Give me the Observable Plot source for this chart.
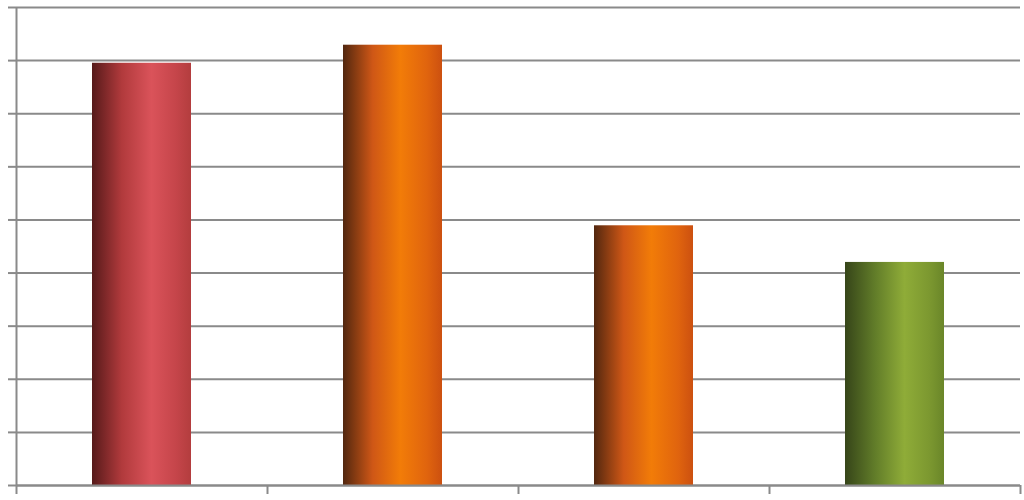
<!DOCTYPE html>
<html>
<head>
<meta charset="utf-8">
<script src="https://cdn.jsdelivr.net/npm/d3@7"></script>
<script src="https://cdn.jsdelivr.net/npm/@observablehq/plot@0.6"></script>
<style>
  html, body { margin: 0; padding: 0; background: #fff; }
  #chart svg { display: block; }
</style>
</head>
<body>
<div id="chart"></div>
<script>
// Data
const categories = ["1", "2", "3", "4"];
const values = [7.95, 8.29, 4.89, 4.20];
const gradientIds = ["gRed", "gOrange", "gOrange", "gGreen"];
const yTicks = [0, 1, 2, 3, 4, 5, 6, 7, 8, 9];
const xBoundaries = [0, 1, 2, 3, 4];

// Gradient stops: [offset, color]
const gradients = {
  gRed:    [[0, "#561a1a"], [0.3, "#b13a3c"], [0.6, "#da535a"], [0.85, "#c5454a"], [1, "#b33d3e"]],
  gOrange: [[0, "#52270f"], [0.3, "#cf5716"], [0.58, "#f27c08"], [0.85, "#e0640e"], [1, "#cc5010"]],
  gGreen:  [[0, "#364519"], [0.3, "#617c29"], [0.6, "#8fac38"], [0.85, "#7c9830"], [1, "#6a8629"]]
};

const data = categories.map((c, i) => ({ category: c, index: i, value: values[i], grad: gradientIds[i] }));

const grey = "#8a8a8a";

const chart = Plot.plot({
  width: 1024,
  height: 500,
  marginLeft: 16,
  marginRight: 4,
  marginTop: 7,
  marginBottom: 15,
  x: { domain: [0, 4], axis: null, label: null },
  y: { domain: [0, 9], axis: null, label: null },
  color: { type: "identity" },
  marks: [
    Plot.gridY(yTicks, { stroke: grey, strokeOpacity: 1, strokeWidth: 2 }),
    Plot.axisY(yTicks, { tickSize: 8, tickFormat: () => "", label: null, stroke: grey, strokeWidth: 2 }),
    Plot.axisX(xBoundaries, { tickSize: 9, tickFormat: () => "", label: null, stroke: grey, strokeWidth: 2 }),
    Plot.rect(data, {
      x1: d => d.index,
      x2: d => d.index + 1,
      y1: 0,
      y2: "value",
      insetLeft: 76,
      insetRight: 76,
      fill: d => `url(#${d.grad})`
    }),
    Plot.ruleX([0], { stroke: grey, strokeWidth: 2 }),
    Plot.ruleY([0], { stroke: grey, strokeWidth: 2 })
  ]
});

// Gradient definitions
const svg = d3.select(chart);
const defs = svg.insert("defs", ":first-child");
for (const [id, stops] of Object.entries(gradients)) {
  const lg = defs.append("linearGradient").attr("id", id)
    .attr("x1", "0").attr("x2", "1").attr("y1", "0").attr("y2", "0");
  for (const [o, c] of stops) lg.append("stop").attr("offset", o).attr("stop-color", c);
}

document.getElementById("chart").appendChild(chart);
</script>
</body>
</html>
